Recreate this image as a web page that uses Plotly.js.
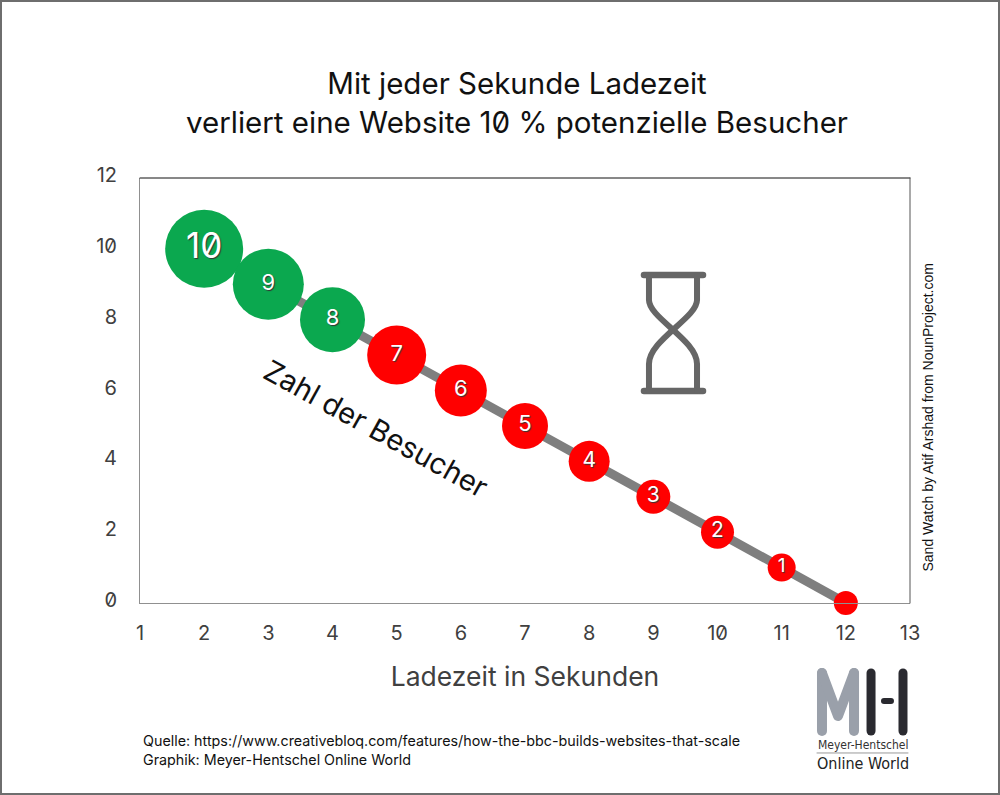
<!DOCTYPE html>
<html><head><meta charset="utf-8">
<script src="https://cdn.plot.ly/plotly-3.0.1.min.js"></script>
<style>
html,body{margin:0;padding:0;background:#fff}
#frame{position:absolute;left:0;top:0;width:1000px;height:795px;box-sizing:border-box;border:2px solid #6e6e6e;pointer-events:none;z-index:5}
#chart{width:1000px;height:795px}
svg text{font-feature-settings:"zero" 1;}
.shapelayer path{stroke-linecap:round;stroke-linejoin:round}
</style></head><body>
<div id="chart"></div><div id="frame"></div>
<script>
const seconds=[2,3,4,5,6,7,8,9,10,11,12];
const visitors=[10,9,8,7,6,5,4,3,2,1,0];
const labels=["10","9","8","7","6","5","4","3","2","1",""];
const colors=["#0BA84F","#0BA84F","#0BA84F","#FF0000","#FF0000","#FF0000","#FF0000","#FF0000","#FF0000","#FF0000","#FF0000"];
const titleText="Mit jeder Sekunde Ladezeit<br>verliert eine Website 10 % potenzielle Besucher";
const xTicks=[1,2,3,4,5,6,7,8,9,10,11,12,13];
const yTicks=[0,2,4,6,8,10,12];

const L=140,R=910,T=178,B=603;
const px=x=>(x-L)/(R-L), py=y=>(B-y)/(B-T);
const P=(x,y)=>px(x).toFixed(4)+','+py(y).toFixed(4);
const lineShape=(path,color,width)=>({type:'path',xref:'paper',yref:'paper',path:path,layer:'above',
  line:{color:color,width:width},fillcolor:'rgba(0,0,0,0)'});
const seg=(x0,y0,x1,y1,color,w)=>lineShape('M'+P(x0,y0)+' L'+P(x1,y1),color,w);
const ht='#666666', gr='#9AA0AA', dk='#2A2A30';
const shapes=[
  seg(L,T,R,T,'#111111',1),
  seg(R,T,R,B,'#555555',1),
  seg(644,275,703,275,ht,6.5),
  seg(644,391,703,391,ht,6.5),
  lineShape('M'+P(649,275)+' L'+P(649,300)+' C'+P(649,318)+' '+P(697,340)+' '+P(697,364)+' L'+P(697,391),ht,6),
  lineShape('M'+P(697,275)+' L'+P(697,300)+' C'+P(697,318)+' '+P(649,340)+' '+P(649,364)+' L'+P(649,391),ht,6),
  lineShape('M'+P(822,673)+' L'+P(822,731),gr,10),
  lineShape('M'+P(854,673)+' L'+P(854,731),gr,10),
  lineShape('M'+P(822,673)+' L'+P(838,716)+' L'+P(854,673),gr,10),
  seg(871,673,871,731,dk,9),
  seg(903,673,903,731,dk,9),
  seg(884,701,891,701,dk,6),
  seg(817,753,908,753,'#999999',1)
];

const note=(text,x,y,size,extra)=>Object.assign({xref:'paper',yref:'paper',x:px(x),y:py(y),text:text,showarrow:false,
  font:{family:'Inter, sans-serif',size:size,color:'#111'},xanchor:'left',yanchor:'middle'},extra||{});
const annotations=[
  note('Zahl der Besucher',376,428,29,{xanchor:'center',textangle:29}),
  note('Sand Watch by Atif Arshad from NounProject.com',927,417.5,14,{xanchor:'center',textangle:-90,font:{family:'Liberation Sans',size:14,color:'#111'}}),
  note('Quelle: https://www.creativebloq.com/features/how-the-bbc-builds-websites-that-scale',141,740,14.3),
  note('Graphik: Meyer-Hentschel Online World',141,759,14.3),
  note('Meyer-Hentschel',862.5,745,12,{xanchor:'center',font:{family:'DejaVu Sans Condensed, DejaVu Sans',size:12,color:'#333'}}),
  note('Online World',862.5,763,16,{xanchor:'center',font:{family:'DejaVu Sans Condensed, DejaVu Sans',size:16,color:'#222'}})
];

const dotDiameters=[78,71,65,59,52,46,41,34,33,28,24];
const trace={x:seconds,y:visitors,type:'scatter',mode:'lines+markers+text',cliponaxis:false,
  text:labels,textposition:'middle center',
  textfont:{family:'Inter, sans-serif',color:'#fff',size:visitors.map(v=>v===10?35:(v>=5?22:(v>=2?21:19))),shadow:'1px 1px 1px #333'},
  line:{color:'#7F7F7F',width:9},
  marker:{color:colors,size:dotDiameters,line:{width:0},opacity:1},
  hoverinfo:'skip',showlegend:false};

const axisFont={family:'Inter, sans-serif',size:20,color:'#404040'};
const layout={width:1000,height:795,paper_bgcolor:'#fff',plot_bgcolor:'#fff',showlegend:false,
  margin:{l:L,r:1000-R,t:T,b:795-B,pad:0},
  title:{text:titleText,font:{family:'Inter, sans-serif',size:29.5,color:'#111'},x:0.517,xanchor:'center',y:0.8815,yanchor:'middle'},
  xaxis:{range:[1,13],tickmode:'array',tickvals:xTicks,ticktext:xTicks.map(String),showgrid:false,zeroline:false,
    showline:true,linecolor:'#909090',linewidth:1,ticks:'',ticklabelstandoff:12,tickfont:axisFont,
    title:{text:'Ladezeit in Sekunden',font:{family:'Inter, sans-serif',size:26.5,color:'#404040'},standoff:23}},
  yaxis:{range:[0,12],tickmode:'array',tickvals:yTicks,ticktext:yTicks.map(String),showgrid:false,zeroline:false,
    showline:true,linecolor:'#909090',linewidth:1,ticks:'',ticklabelstandoff:18,ticklabelshift:-3,tickfont:axisFont},
  shapes:shapes,annotations:annotations};
Plotly.newPlot('chart',[trace],layout,{displayModeBar:false,staticPlot:true});
</script></body></html>
